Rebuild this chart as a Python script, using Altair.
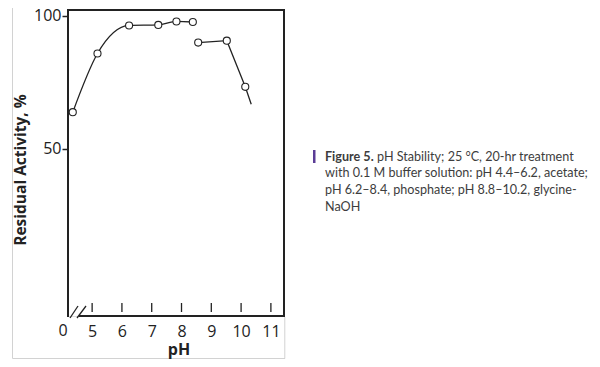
import altair as alt
import pandas as pd

# ---- data ----
ph_seg1 = [4.35, 5.18, 6.24, 7.22, 7.83, 8.38]
act_seg1 = [63.8, 85.8, 96.3, 96.5, 97.8, 97.6]
ph_seg2 = [8.56, 9.52, 10.14]
act_seg2 = [89.9, 90.6, 73.3]
ph_seg2_tail = [10.34]
act_seg2_tail = [66.8]

x_tick_values = [5, 6, 7, 8, 9, 10, 11]
y_tick_values = [50, 100]
x_origin_label = "0"

x_title = "pH"
y_title = "Residual Activity, %"
caption_bold = "Figure 5."
caption_first = "pH Stability; 25 °C, 20-hr treatment"
caption_rest = [
    "with 0.1 M buffer solution: pH 4.4–6.2, acetate;",
    "pH 6.2–8.4, phosphate; pH 8.8–10.2, glycine-",
    "NaOH",
]

# ---- tables ----
line1 = pd.DataFrame({"pH": ph_seg1, "act": act_seg1})
line2 = pd.DataFrame({"pH": ph_seg2 + ph_seg2_tail, "act": act_seg2 + act_seg2_tail})
pts = pd.DataFrame({"pH": ph_seg1 + ph_seg2, "act": act_seg1 + act_seg2})
ticks = pd.DataFrame({"pH": x_tick_values})
one = pd.DataFrame({"a": [0]})

W, H = 216, 306
INK = "#222222"
FONT = "Open Sans"

xs = alt.Scale(domain=[4.19, 11.44], nice=False, zero=False)
ys = alt.Scale(domain=[-12.6, 102.1], nice=False, zero=False)

x_axis = alt.Axis(values=x_tick_values, ticks=False, domain=False, grid=False,
                  labelFontSize=16, labelFont=FONT, labelColor=INK, labelPadding=7,
                  title=None)
y_axis = alt.Axis(values=y_tick_values, domain=False, grid=False, tickSize=6,
                  tickWidth=1.5, tickColor=INK, labelFontSize=16, labelFont=FONT,
                  labelColor=INK, labelPadding=1, title=None)

X = alt.X("pH:Q", scale=xs, axis=x_axis)
Y = alt.Y("act:Q", scale=ys, axis=y_axis)

l1 = alt.Chart(line1).mark_line(interpolate="monotone", color=INK, strokeWidth=1.3).encode(x=X, y=Y)
l2 = alt.Chart(line2).mark_line(color=INK, strokeWidth=1.3).encode(x=X, y=Y)
p = alt.Chart(pts).mark_point(shape="circle", filled=True, fill="white", stroke=INK,
                              strokeWidth=1.1, size=50, opacity=1).encode(x=X, y=Y)
tk = alt.Chart(ticks).mark_rule(color=INK, strokeWidth=1.3).encode(
    x=alt.X("pH:Q", scale=xs, axis=x_axis), y=alt.value(293), y2=alt.value(302))


def rule(x1, y1, x2, y2, w=2, c=INK):
    return alt.Chart(one).mark_rule(color=c, strokeWidth=w).encode(
        x=alt.value(x1), y=alt.value(y1), x2=alt.value(x2), y2=alt.value(y2))


GRAY = "#d2d2d2"
outer = [
    rule(-55.5, -2, -55.5, 348.5, w=1, c=GRAY),
    rule(-55.5, 348.5, 217, 348.5, w=1, c=GRAY),
    rule(216.8, 307, 216.8, 348.5, w=1, c=GRAY),
]

frame = [
    rule(0, -1, 0, 307),
    rule(-1, 0, W + 1, 0),
    rule(W, -1, W, 307),
    rule(11, 306, W + 1, 306),
    rule(2, 308, 10, 296, w=1.3),
    rule(9, 308, 18, 296, w=1.3),
]

zero_lbl = alt.Chart(one).mark_text(font=FONT, fontSize=16, color=INK, baseline="top").encode(
    x=alt.value(-5), y=alt.value(313), text=alt.value(x_origin_label))

xt = alt.Chart(one).mark_text(font=FONT, fontSize=16, fontWeight="bold", color=INK,
                              baseline="alphabetic").encode(
    x=alt.value(111), y=alt.value(345), text=alt.value(x_title))
yt = alt.Chart(one).mark_text(font=FONT, fontSize=15.5, fontWeight="bold", color=INK,
                              angle=270, baseline="middle").encode(
    x=alt.value(-47.5), y=alt.value(160), text=alt.value(y_title))

bar = alt.Chart(one).mark_rect(color="#5b3c96").encode(
    x=alt.value(245), x2=alt.value(247.5), y=alt.value(140), y2=alt.value(153))

CFONT = "Lato"
CCOL = "#3d3d3d"
CSIZE = 12.6
cap = [
    alt.Chart(one).mark_text(font=CFONT, fontSize=CSIZE, fontWeight="bold", color=CCOL,
                             align="left", baseline="alphabetic").encode(
        x=alt.value(257), y=alt.value(150.5), text=alt.value(caption_bold)),
    alt.Chart(one).mark_text(font=CFONT, fontSize=CSIZE, color=CCOL,
                             align="left", baseline="alphabetic").encode(
        x=alt.value(309), y=alt.value(150.5), text=alt.value(caption_first)),
]
for i, line in enumerate(caption_rest):
    cap.append(alt.Chart(one).mark_text(font=CFONT, fontSize=CSIZE, color=CCOL,
                                        align="left", baseline="alphabetic").encode(
        x=alt.value(257), y=alt.value(150.5 + 16.7 * (i + 1)), text=alt.value(line)))

chart = alt.layer(*outer, *frame, tk, l1, l2, p, zero_lbl, xt, yt, bar, *cap).properties(
    width=W, height=H,
    padding={"left": 60, "top": 2, "right": 308, "bottom": 43},
    autosize="none",
).configure_view(strokeWidth=0).configure(background="white")

chart.save("out.html", embed_options={"renderer": "svg", "actions": False})
